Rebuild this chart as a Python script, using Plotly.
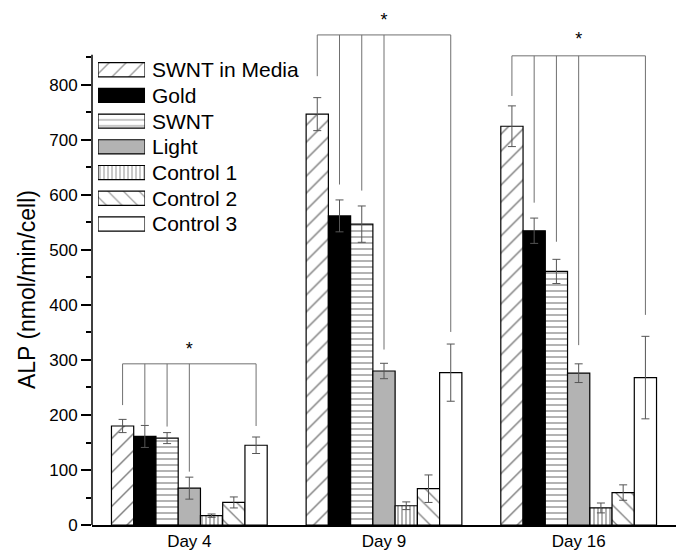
import plotly.graph_objects as go

# ---- data -------------------------------------------------------------
days = ["Day 4", "Day 9", "Day 16"]
groups = ["SWNT in Media", "Gold", "SWNT", "Light", "Control 1", "Control 2", "Control 3"]

swnt_media = [180, 747, 725]
swnt_media_err = [12, 30, 37]
gold = [161, 562, 535]
gold_err = [20, 29, 23]
swnt = [158, 547, 461]
swnt_err = [10, 33, 22]
light = [67, 280, 276]
light_err = [20, 14, 17]
control1 = [17, 35, 31]
control1_err = [3, 7, 9]
control2 = [41, 66, 59]
control2_err = [10, 25, 14]
control3 = [145, 277, 268]
control3_err = [15, 52, 75]

values = [swnt_media, gold, swnt, light, control1, control2, control3]
errors = [swnt_media_err, gold_err, swnt_err, light_err, control1_err, control2_err, control3_err]

# significance brackets: level of the bar, bars it connects, where each drop ends
bracket_level = [293, 891, 853]
bracket_members = [0, 1, 2, 3, 6]
bracket_ends = [
    [218, 182, 179, 97, 180],
    [816, 619, 608, 319, 351],
    [780, 586, 515, 327, 382],
]
star_level = [318, 916, 880]

# ---- styles -----------------------------------------------------------
FONT = "Liberation Sans, Arial, sans-serif"
styles = [
    dict(bg="white", shape="/", size=12, solidity=0.12),
    dict(bg="black", shape="", size=8, solidity=0.2),
    dict(bg="white", shape="-", size=6, solidity=0.2),
    dict(bg="#b3b3b3", shape="", size=8, solidity=0.2),
    dict(bg="white", shape="|", size=4, solidity=0.3),
    dict(bg="white", shape="\\", size=11, solidity=0.12),
    dict(bg="white", shape="", size=8, solidity=0.2),
]

BARGAP = 0.2
n = len(groups)
AXIS_TOP = 855      # the drawn y axis stops here
Y_TOP = 954.5       # room above it for the brackets


def bar_center(day_idx, bar_idx):
    w = (1 - BARGAP) / n
    return day_idx - (1 - BARGAP) / 2 + (bar_idx + 0.5) * w


fig = go.Figure()

for name, vals, errs, st in zip(groups, values, errors, styles):
    fig.add_trace(go.Bar(
        name=name,
        x=list(range(len(days))),
        y=vals,
        error_y=dict(type="data", array=errs, color="#555555", thickness=1, width=4),
        marker=dict(
            color=st["bg"],
            line=dict(color="black", width=1.2),
            pattern=dict(shape=st["shape"], fgcolor="black", bgcolor=st["bg"],
                         size=st["size"], solidity=st["solidity"]),
        ),
        showlegend=False,
    ))

# brackets
for d in range(len(days)):
    xs, ys = [], []
    x_left = bar_center(d, bracket_members[0])
    x_right = bar_center(d, bracket_members[-1])
    xs += [x_left, x_right, None]
    ys += [bracket_level[d], bracket_level[d], None]
    for k, end in zip(bracket_members, bracket_ends[d]):
        xc = bar_center(d, k)
        xs += [xc, xc, None]
        ys += [bracket_level[d], end, None]
    fig.add_trace(go.Scatter(x=xs, y=ys, mode="lines",
                             line=dict(color="#707070", width=1),
                             showlegend=False, hoverinfo="skip"))

fig.add_trace(go.Scatter(
    x=list(range(len(days))), y=star_level, mode="text",
    text=["*"] * len(days), textposition="middle center",
    textfont=dict(family=FONT, size=18, color="black"),
    showlegend=False, hoverinfo="skip",
))

# legend drawn as a small horizontal bar chart on its own axes
rows = list(range(n))
fig.add_trace(go.Bar(
    x=[1] * n, y=rows, orientation="h", width=0.55,
    xaxis="x2", yaxis="y2",
    marker=dict(
        color=[s["bg"] for s in styles],
        line=dict(color="black", width=1.2),
        pattern=dict(shape=[s["shape"] for s in styles], fgcolor="black",
                     bgcolor=[s["bg"] for s in styles],
                     size=[s["size"] for s in styles],
                     solidity=[s["solidity"] for s in styles]),
    ),
    showlegend=False, hoverinfo="skip",
))

annotations = [
    dict(x=0.0993, xref="paper", y=r, yref="y2", text=g, showarrow=False,
         xanchor="left", yanchor="middle", font=dict(family=FONT, size=21, color="black"))
    for r, g in zip(rows, groups)
]
# y axis title, centred on the drawn part of the axis
annotations.append(dict(
    x=-0.111, xref="paper", y=AXIS_TOP / 2, yref="y", text="ALP (nmol/min/cell)",
    textangle=-90, showarrow=False, xanchor="center", yanchor="middle",
    font=dict(family=FONT, size=23, color="black"),
))

fig.update_layout(
    width=676, height=550,
    margin=dict(l=92, r=0, t=0, b=25),
    paper_bgcolor="white", plot_bgcolor="white",
    barmode="group", bargap=BARGAP, bargroupgap=0,
    font=dict(family=FONT, color="black"),
    xaxis=dict(
        range=[-0.5, 2.5], tickmode="array", tickvals=list(range(len(days))),
        ticktext=days, ticks="", showgrid=False, zeroline=False,
        showline=True, linecolor="black", linewidth=1.5,
        tickfont=dict(size=17), fixedrange=True,
    ),
    yaxis=dict(
        range=[0, Y_TOP], tickmode="array", tickvals=list(range(0, 801, 100)),
        ticks="outside", ticklen=10, tickwidth=1.5, tickcolor="black",
        minor=dict(tickmode="array", tickvals=list(range(50, 851, 100)),
                   ticks="outside", ticklen=5, tickwidth=1.5, tickcolor="black"),
        showgrid=False, zeroline=False, showline=False,
        tickfont=dict(size=17),
    ),
    xaxis2=dict(domain=[0.0103, 0.0908], range=[0, 1], anchor="y2", visible=False),
    yaxis2=dict(domain=[0.5489, 0.8917], range=[n - 0.5, -0.5], anchor="x2", visible=False),
    shapes=[dict(type="line", xref="paper", x0=0, x1=0, yref="y", y0=0, y1=AXIS_TOP,
                 line=dict(color="black", width=1.5))],
    annotations=annotations,
)

fig.write_html("out.html")
